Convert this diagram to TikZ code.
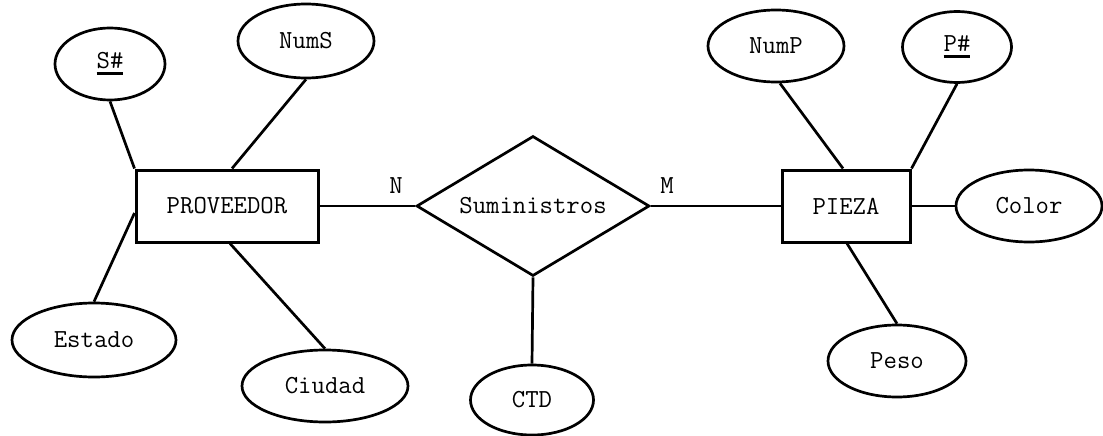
\documentclass[tikz,border=0pt]{standalone}
\usepackage{fontspec}
\usetikzlibrary{shapes.geometric,calc}
\newcommand\keyul[1]{\leavevmode\vtop{\hbox{#1}\kern3pt\hrule height 3pt}}
\begin{document}
\begin{tikzpicture}[x=1pt,y=-1pt,
  every node/.style={font=\ttfamily\fontsize{26}{30}\selectfont},
  attr/.style={ellipse,draw,line width=2.7pt,inner sep=0pt},
  entity/.style={rectangle,draw,line width=3pt,inner sep=0pt},
  rel/.style={diamond,draw,line width=2.7pt,inner sep=0pt,aspect=1.66},
  conn/.style={line width=2.7pt},
  card/.style={inner sep=0pt}]
\useasboundingbox (0,0) rectangle (1103,436);
% entities
\node[entity,minimum width=182,minimum height=72] (prov) at (227,206) {PROVEEDOR};
\node[entity,minimum width=128,minimum height=72] (pieza) at (846,206) {PIEZA};
% relationship
\node[rel,minimum width=233,minimum height=140] (sum) at (533,206) {Suministros};
% attributes
\node[attr,minimum width=110,minimum height=72] (ssharp) at (110,64) {\keyul{S\#}};
\node[attr,minimum width=136,minimum height=74] (nums) at (306,41) {NumS};
\node[attr,minimum width=164,minimum height=74] (estado) at (94,340) {Estado};
\node[attr,minimum width=166,minimum height=72] (ciudad) at (325,386) {Ciudad};
\node[attr,minimum width=123,minimum height=70] (ctd) at (532,400) {CTD};
\node[attr,minimum width=136,minimum height=72] (nump) at (776,46) {NumP};
\node[attr,minimum width=109,minimum height=71] (psharp) at (957,47) {\keyul{P\#}};
\node[attr,minimum width=146,minimum height=72] (color) at (1029,206) {Color};
\node[attr,minimum width=138,minimum height=72] (peso) at (897,361) {Peso};
% cardinalities
\node[card] (n) at (396,186) {N};
\node[card] (m) at (667,186) {M};
% connectors
\draw[conn] (ssharp.south) -- (prov.north west);
\draw[conn] (nums.south) -- ($(prov.north)+(5,0)$);
\draw[conn] (estado.north) -- ($(prov.west)+(0,7)$);
\draw[conn] ($(prov.south)+(3,0)$) -- (ciudad.north);
\draw[conn] (prov.east) -- (sum.west);
\draw[conn] (sum.east) -- (pieza.west);
\draw[conn] (sum.south) -- (ctd.north);
\draw[conn] (pieza.east) -- (color.west);
\draw[conn] ($(nump.south)+(4,0)$) -- ($(pieza.north)+(-3,0)$);
\draw[conn] (psharp.south) -- (pieza.north east);
\draw[conn] ($(pieza.south)+(1,0)$) -- (peso.north);
\end{tikzpicture}
\end{document}
